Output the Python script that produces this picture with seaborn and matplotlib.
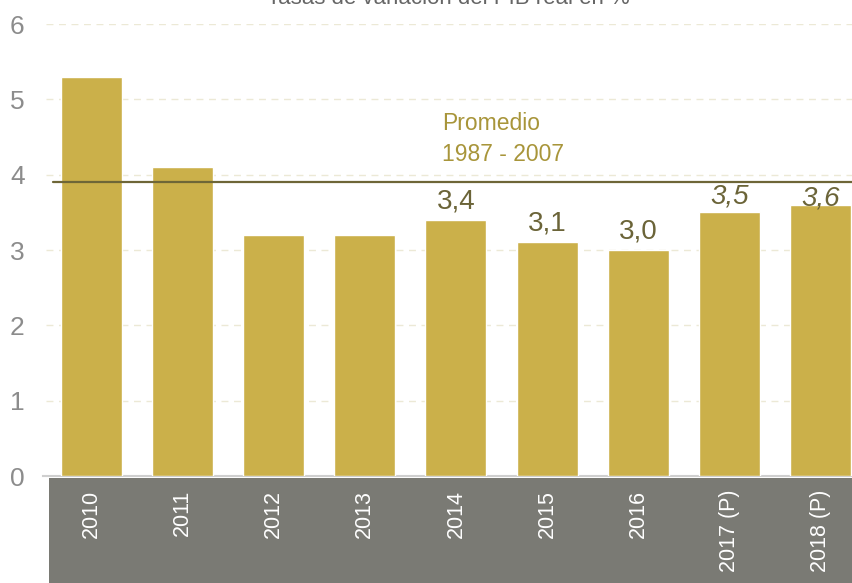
import matplotlib
matplotlib.use("Agg")
import matplotlib.pyplot as plt
import seaborn as sns
import pandas as pd
from matplotlib.patches import Rectangle

years = ["2010", "2011", "2012", "2013", "2014", "2015", "2016", "2017 (P)", "2018 (P)"]
growth = [5.3, 4.1, 3.2, 3.2, 3.4, 3.1, 3.0, 3.5, 3.6]
labels = ["", "", "", "", "3,4", "3,1", "3,0", "3,5", "3,6"]
label_italic = [False, False, False, False, False, False, False, True, True]
average = 3.9
yticks = [0, 1, 2, 3, 4, 5, 6]
title = "Tasas de variación del PIB real en %"
avg_text = "Promedio\n1987 - 2007"

sns.set_theme(style="white")
plt.rcParams["font.family"] = ["Liberation Sans", "DejaVu Sans"]

W, H = 852, 583
fig = plt.figure(figsize=(W / 100, H / 100), dpi=100)
ax = fig.add_axes([45.5 / W, 107 / H, 820.8 / W, 452 / H])
ax.set_facecolor("none")

df = pd.DataFrame({"year": years, "growth": growth})
sns.barplot(data=df, x="year", y="growth", color="#CBB04A", saturation=1,
            width=0.67, ax=ax, zorder=3)

ax.set_ylim(0, 6)
ax.set_xlim(-0.5, len(years) - 0.5)
ax.set_yticks(yticks)
ax.set_xlabel("")
ax.set_ylabel("")
for y in yticks[1:]:
    ax.axhline(y, color="#ECE9D6", lw=1, ls=(0, (5, 4)), zorder=1)

ax.axhline(average, xmin=(53 - 45.5) / 820.8, xmax=1, color="#6E6637", lw=1.6, zorder=4)

for s in ["top", "right", "left"]:
    ax.spines[s].set_visible(False)
ax.spines["bottom"].set_color("#CFCFCF")
ax.spines["bottom"].set_linewidth(1.5)
ax.spines["bottom"].set_bounds(-0.53, len(years) - 0.5)

ax.tick_params(axis="y", length=0, pad=15, labelsize=19, labelcolor="#8C8C8C")
ax.tick_params(axis="x", length=0, pad=10, labelsize=15.5, labelcolor="white", rotation=90)

fig.patches.append(Rectangle((49 / W, 0), (W - 49) / W, (H - 478) / H,
                             transform=fig.transFigure, facecolor="#7A7A74",
                             edgecolor="none", zorder=-1))

offsets = [4, 4, 4, 4, 4, 4, 4, 2, -5]
for i, (v, lab, it) in enumerate(zip(growth, labels, label_italic)):
    if lab:
        ax.annotate(lab, (i, v), xytext=(0, offsets[i]), textcoords="offset points",
                    ha="center", va="bottom", fontsize=20, color="#6B6438",
                    fontstyle="italic" if it else "normal", zorder=5)

ax.text(3.85, 4.12, avg_text, ha="left", va="bottom", fontsize=16.5,
        color="#A8953A", linespacing=1.4)

fig.text(448 / W, 1 - 4 / H, title, ha="center", va="baseline", fontsize=16,
         color="#666666")

fig.savefig("out.png", dpi=100)
